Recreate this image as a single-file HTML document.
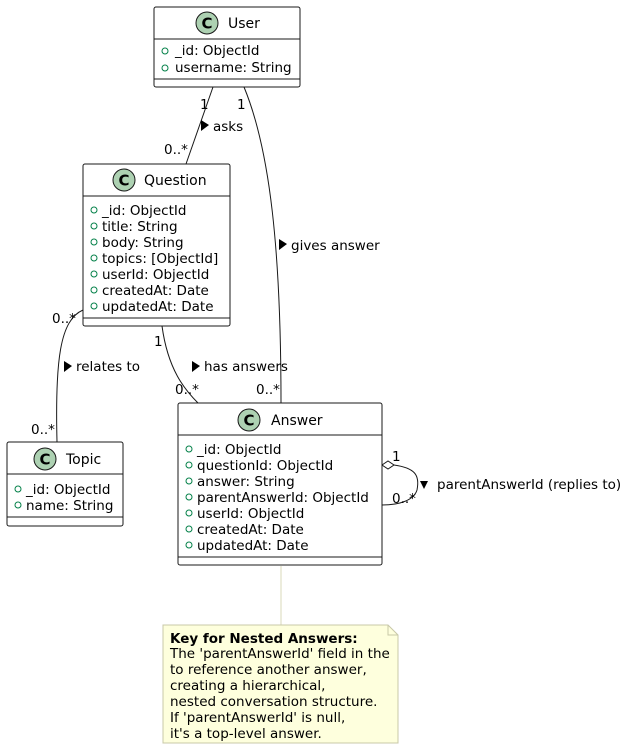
<!DOCTYPE html>
<html><head><meta charset="utf-8"><style>body{margin:0;background:#fff}svg{display:block}text{font-family:"DejaVu Sans","Liberation Sans",sans-serif;font-size:13.5px;fill:#000}.t{font-size:14px}</style></head><body>
<svg width="626" height="748" viewBox="0 0 626 748" xmlns="http://www.w3.org/2000/svg">
<defs>
<g id="ci"><circle r="11" fill="#ADD1B2" stroke="#181818" stroke-width="1"/><text x="0" y="5.5" text-anchor="middle" style="font-weight:bold;font-size:15px">C</text></g>
</defs>
<g fill="none" stroke="#181818" stroke-width="1">
<path d="M213,87 L186,164"/>
<path d="M244,87 C270,150 281,250 281,403"/>
<path d="M162,326 C168,370 185,390 198,403"/>
<path d="M83,310 C60,320 55,360 57,442"/>
<path d="M394,465 C415,468 420,475 417,490 C414,500 400,505 382,505"/>
<path d="M281,566 L281,625" stroke="#d8d8b8"/>
</g>
<path d="M382,465 L388,461 L394,465 L388,469 Z" fill="#fff" stroke="#181818"/>
<text x="200" y="109">1</text>
<text x="164" y="154">0..*</text>
<path d="M201,120 L209,125 L201,131 Z" fill="#000"/><text x="213" y="131">asks</text>
<text x="237" y="109">1</text>
<text x="256" y="394">0..*</text>
<path d="M279,239 L287,244 L279,250 Z" fill="#000"/><text x="291" y="250">gives answer</text>
<text x="154" y="346">1</text>
<text x="175" y="394">0..*</text>
<path d="M192,361 L200,366 L192,372 Z" fill="#000"/><text x="204" y="371">has answers</text>
<text x="52" y="323">0..*</text>
<text x="31" y="434">0..*</text>
<path d="M64,361 L72,366 L64,372 Z" fill="#000"/><text x="76" y="371">relates to</text>
<text x="392" y="461">1</text>
<text x="392" y="503">0..*</text>
<path d="M420,481 L428,481 L424,489 Z" fill="#000"/><text x="437" y="489">parentAnswerId (replies to)</text>
<g>
<rect x="154" y="7" width="146" height="80" rx="2" fill="#fff" stroke="#181818"/>
<line x1="154" y1="39" x2="300" y2="39" stroke="#181818"/><line x1="154" y1="79" x2="300" y2="79" stroke="#181818"/>
<use href="#ci" x="207" y="23"/><text class="t" x="228" y="28">User</text>
<g fill="none" stroke="#038048"><circle cx="165" cy="51" r="3"/><circle cx="165" cy="68" r="3"/></g>
<text x="175" y="55">_id: ObjectId</text><text x="175" y="72">username: String</text>
</g>
<g>
<rect x="83" y="164" width="147" height="162" rx="2" fill="#fff" stroke="#181818"/>
<line x1="83" y1="196" x2="230" y2="196" stroke="#181818"/><line x1="83" y1="318" x2="230" y2="318" stroke="#181818"/>
<use href="#ci" x="124" y="180"/><text class="t" x="144" y="185">Question</text>
<g fill="none" stroke="#038048"><circle cx="94" cy="210" r="3"/><circle cx="94" cy="226" r="3"/><circle cx="94" cy="242" r="3"/><circle cx="94" cy="258" r="3"/><circle cx="94" cy="274" r="3"/><circle cx="94" cy="290" r="3"/><circle cx="94" cy="306" r="3"/></g>
<text x="102" y="215">_id: ObjectId</text><text x="102" y="231">title: String</text><text x="102" y="247">body: String</text><text x="102" y="263">topics: [ObjectId]</text><text x="102" y="279">userId: ObjectId</text><text x="102" y="295">createdAt: Date</text><text x="102" y="311">updatedAt: Date</text>
</g>
<g>
<rect x="7" y="442" width="116" height="84" rx="2" fill="#fff" stroke="#181818"/>
<line x1="7" y1="474" x2="123" y2="474" stroke="#181818"/><line x1="7" y1="517" x2="123" y2="517" stroke="#181818"/>
<use href="#ci" x="45" y="459"/><text class="t" x="66" y="464">Topic</text>
<g fill="none" stroke="#038048"><circle cx="18" cy="489" r="3"/><circle cx="18" cy="505" r="3"/></g>
<text x="26" y="494">_id: ObjectId</text><text x="26" y="510">name: String</text>
</g>
<g>
<rect x="178" y="403" width="204" height="162" rx="2" fill="#fff" stroke="#181818"/>
<line x1="178" y1="435" x2="382" y2="435" stroke="#181818"/><line x1="178" y1="557" x2="382" y2="557" stroke="#181818"/>
<use href="#ci" x="249" y="420"/><text class="t" x="271" y="425">Answer</text>
<g fill="none" stroke="#038048"><circle cx="189" cy="449" r="3"/><circle cx="189" cy="465" r="3"/><circle cx="189" cy="481" r="3"/><circle cx="189" cy="497" r="3"/><circle cx="189" cy="513" r="3"/><circle cx="189" cy="529" r="3"/><circle cx="189" cy="545" r="3"/></g>
<text x="197" y="454">_id: ObjectId</text><text x="197" y="470">questionId: ObjectId</text><text x="197" y="486">answer: String</text><text x="197" y="502">parentAnswerId: ObjectId</text><text x="197" y="518">userId: ObjectId</text><text x="197" y="534">createdAt: Date</text><text x="197" y="550">updatedAt: Date</text>
</g>
<path d="M163,625 L388,625 L398,635 L398,743 L163,743 Z" fill="#FEFFDD" stroke="#c8c8a8"/>
<path d="M388,625 L388,635 L398,635" fill="none" stroke="#c8c8a8"/>
<text x="170" y="643" style="font-weight:bold">Key for Nested Answers:</text>
<text x="170" y="658">The 'parentAnswerId' field in the</text>
<text x="170" y="674">to reference another answer,</text>
<text x="170" y="690">creating a hierarchical,</text>
<text x="170" y="706">nested conversation structure.</text>
<text x="170" y="722">If 'parentAnswerId' is null,</text>
<text x="170" y="738">it's a top-level answer.</text>
</svg>
</body></html>
